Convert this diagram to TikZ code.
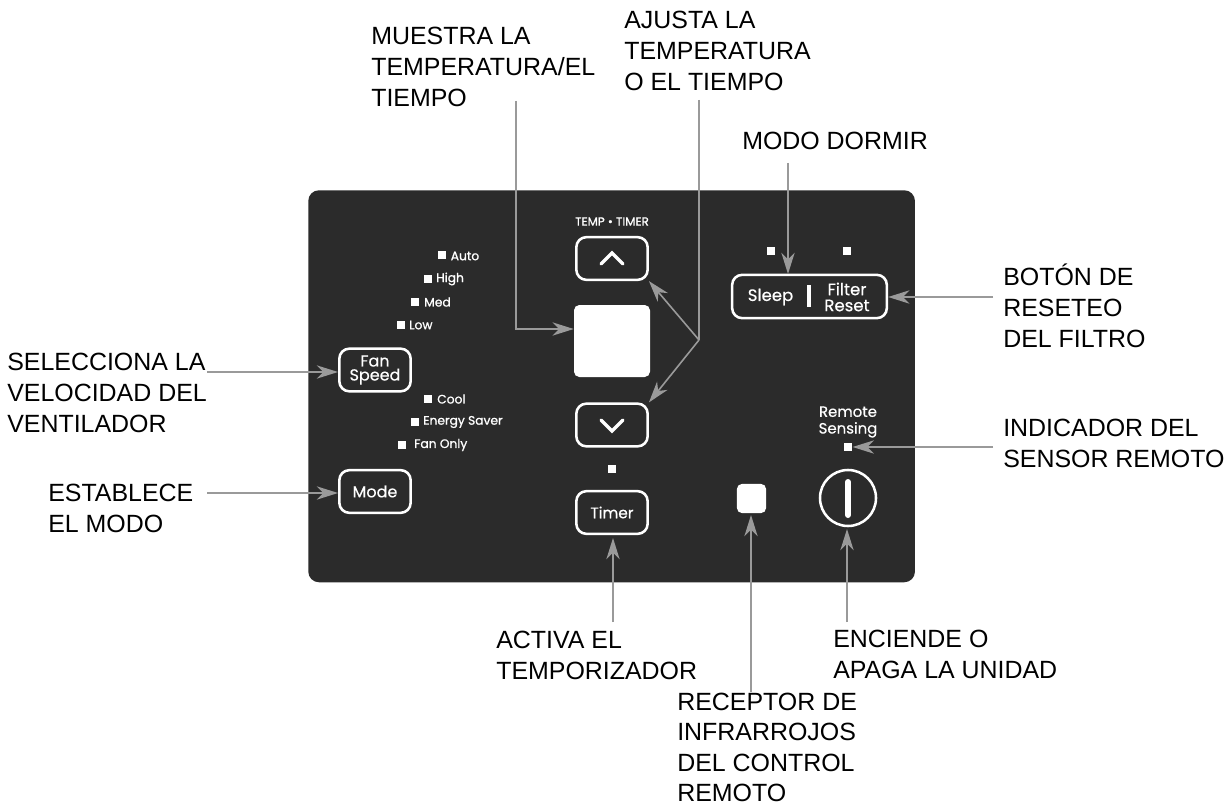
\documentclass[tikz,border=0pt]{standalone}
\usepackage{fontspec}
\setmainfont{Liberation Sans}
\newfontfamily\panelfont[FakeBold=0.4]{Poppins}
\newfontfamily\ledfont[FakeBold=1]{Poppins}
\usetikzlibrary{arrows.meta}
\definecolor{panelbg}{HTML}{2B2B2B}
\definecolor{conn}{HTML}{9A9A9A}
\tikzset{
  x=0.75pt,y=-0.75pt,
  lab/.style={anchor=north west,inner sep=0pt,align=left,font=\fontsize{18.7}{23.2}\selectfont,text=black},
  btn/.style={draw=white,line width=1.9pt,rounded corners=7.5pt,fill=panelbg,minimum width=53.5pt,minimum height=32pt,inner sep=0pt,align=center,text=white,font=\panelfont\fontsize{12}{10.5}\selectfont},
  led/.style={fill=white,minimum size=6.5pt,inner sep=0pt},
  ptxt/.style={anchor=west,inner sep=0pt,text=white,font=\ledfont\fontsize{9.2}{9.5}\selectfont},
  conline/.style={draw=conn,line width=1.2pt},
  conarrow/.style={conline,-{Stealth[length=16pt,width=10pt,inset=5pt,fill=conn]}}
}
\begin{document}
\begin{tikzpicture}
\useasboundingbox (0,0) rectangle (1232,806);
\fill[white] (0,0) rectangle (1232,806);
\node[anchor=north west,inner sep=0pt,fill=panelbg,rounded corners=8pt,minimum width=455pt,minimum height=294pt] (panel) at (308,190) {};
% buttons
\node[btn] (fan) at (375,370) {Fan\\Speed};
\node[btn] (mode) at (375,491.5) {Mode};
\node[btn,font=\panelfont\fontsize{11.5}{12}\selectfont] (timer) at (612,512.5) {Timer};
\node[btn] (up) at (612,258.5) {};
\node[btn] (down) at (612,425) {};
\draw[white,line width=2.4pt,line cap=round,line join=miter] (601,264) -- (612,253) -- (623,264);
\draw[white,line width=2.4pt,line cap=round,line join=miter] (601,420) -- (612,431) -- (623,420);
\node[fill=white,rounded corners=4pt,minimum width=57pt,minimum height=54pt,inner sep=0pt] (display) at (612,341) {};
\node[inner sep=0pt,text=white,font=\ledfont\fontsize{8.9}{9}\selectfont] (temptimer) at (612,221.5) {TEMP • TIMER};
% sleep / filter
\node[btn,minimum width=116pt,minimum height=32.5pt] (sleepbox) at (809.5,296.5) {};
\draw[white,line width=2.5pt] (809,285) -- (809,307);
\node[inner sep=0pt,text=white,font=\panelfont\fontsize{12.4}{12}\selectfont] (sleep) at (770.5,297) {Sleep};
\node[inner sep=0pt,text=white,align=center,font=\panelfont\fontsize{12.4}{12}\selectfont] (filter) at (847,297) {Filter\\Reset};
\node[led] (ledsleep) at (771,251) {};
\node[led] (ledfilter) at (847,251) {};
% remote sensing
\node[inner sep=0pt,text=white,align=center,font=\panelfont\fontsize{11.2}{12.5}\selectfont] (remote) at (848,422) {Remote\\Sensing};
\node[led] (ledremote) at (848,447) {};
\node[fill=white,rounded corners=4pt,minimum size=22pt,inner sep=0pt] (ir) at (751.5,498.5) {};
\node[circle,draw=white,line width=1.9pt,fill=panelbg,minimum size=42pt,inner sep=0pt] (power) at (848,498) {};
\draw[white,line width=4.5pt,line cap=round] (848,482) -- (848,515);
% leds
\node[led] (lauto) at (442,255) {};
\node[ptxt] at (450.5,256) {Auto};
\node[led] (lhigh) at (428,279) {};
\node[ptxt] at (436,279) {High};
\node[led] (lmed) at (415,302) {};
\node[ptxt] at (424,302) {Med};
\node[led] (llow) at (401,325) {};
\node[ptxt] at (409,325) {Low};
\node[led] (lcool) at (428,399) {};
\node[ptxt] at (437,399) {Cool};
\node[led] (lenergy) at (415,422) {};
\node[ptxt] at (423,422) {Energy Saver};
\node[led] (lfan) at (402,445) {};
\node[ptxt] at (414,445) {Fan Only};
\node[led] (ltimer) at (612,469) {};
% labels
\node[lab] (tmuestra) at (371,27) {MUESTRA LA\\TEMPERATURA/EL\\TIEMPO};
\node[lab] (tajusta) at (624,11) {AJUSTA LA\\TEMPERATURA\\O EL TIEMPO};
\node[lab] (tdormir) at (742,132) {MODO DORMIR};
\node[lab] (tboton) at (1003,264) {BOTÓN DE\\RESETEO\\DEL FILTRO};
\node[lab] (tsel) at (7,353) {SELECCIONA LA\\VELOCIDAD DEL\\VENTILADOR};
\node[lab] (testa) at (48,484) {ESTABLECE\\EL MODO};
\node[lab] (tactiva) at (496,631) {ACTIVA EL\\TEMPORIZADOR};
\node[lab,font=\fontsize{18.7}{22.7}\selectfont] (trec) at (677,693) {RECEPTOR DE\\INFRARROJOS\\DEL CONTROL\\REMOTO};
\node[lab] (tenc) at (833,630) {ENCIENDE O\\APAGA LA UNIDAD};
\node[lab] (tind) at (1003,419) {INDICADOR DEL\\SENSOR REMOTO};
% connector coordinates
\coordinate (cm0) at (516,101);
\coordinate (cm1) at (516,329);
\coordinate (cm2) at (display.west |- cm1);
\coordinate (ca0) at (699,100);
\coordinate (ca1) at (699,340);
\coordinate (cd0) at (788,163);
\coordinate (cd1) at (788,274);
\coordinate (cb0) at (993,297);
\coordinate (ci0) at (993,447);
\coordinate (cf0) at (207,372);
\coordinate (cf1) at (338,372);
\coordinate (cs0) at (207,493);
\coordinate (ct0) at (613,622);
\coordinate (ct1) at (613,538);
\coordinate (cr0) at (751,692);
\coordinate (cr1) at (751,515);
\coordinate (cp0) at (847,622);
\coordinate (cp1) at (847,529);
% connectors
\draw[conarrow] (cm0) -- (cm1) -- (cm2);
\draw[conline] (ca0) -- (ca1);
\draw[conarrow] (ca1) -- (up.south east);
\draw[conarrow] (ca1) -- (down.north east);
\draw[conarrow] (cd0) -- (cd1);
\draw[conarrow] (cb0) -- (sleepbox.east |- cb0);
\draw[conarrow] (ci0) -- (ledremote.east);
\draw[conarrow] (cf0) -- (cf1);
\draw[conarrow] (cs0) -- (mode.west |- cs0);
\draw[conarrow] (ct0) -- (ct1);
\draw[conarrow] (cr0) -- (cr1);
\draw[conarrow] (cp0) -- (cp1);
\end{tikzpicture}
\end{document}
